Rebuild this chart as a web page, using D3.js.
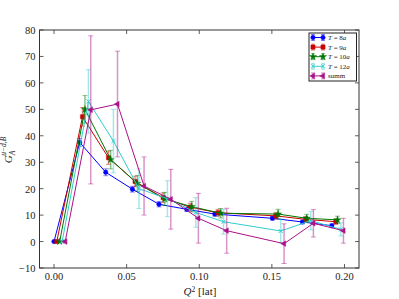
<!DOCTYPE html>
<html><head><meta charset="utf-8">
<script src="https://cdn.jsdelivr.net/npm/d3@7"></script>
<style>body{margin:0;background:#fff}</style>
</head><body><svg id="c" width="399" height="299"></svg>
<script>
const seriesNames = ["T = 8a","T = 9a","T = 10a","T = 12a","summ"];
const colors = ["#0000ff","#cc0000","#007700","#33cccc","#aa1188"];
const q8 = [0,0.0177,0.0356,0.0540,0.0723,0.0914,0.1107,0.1504,0.1711,0.1913];
const q9 = [0.0019,0.0196,0.0375,0.0558,0.0751,0.0937,0.1129,0.1527,0.1733,0.1940];
const q10 = [0.0039,0.0213,0.0390,0.0574,0.0762,0.0948,0.1148,0.1543,0.1740,0.1952];
const q12 = [0.0056,0.0237,0.0409,0.0585,0.0781,0.0976,0.1167,0.1561,0.1768,0.1975];
const qs = [0.0077,0.0253,0.0437,0.0620,0.0804,0.0994,0.1189,0.1584,0.1786,0.1993];
const v8 = [0,37.5,26.2,19.8,14.1,12.2,10.4,8.8,7.4,6.0];
const v9 = [0,47.2,31.7,22.7,16.6,13.0,10.9,9.7,8.4,7.5];
const v10 = [0,50.0,31.0,22.0,16.1,13.2,10.7,10.4,8.8,8.2];
const v12 = [0,53.0,38.0,20.0,16.2,11.0,7.5,4.0,7.9,4.6];
const vs = [0,49.8,52.0,21.0,16.0,8.8,4.1,-0.8,6.9,4.1];
const e8 = [0.2,1.5,1.3,1.1,1.0,0.8,0.8,0.7,0.7,0.7];
const e9 = [0.2,3.5,2.5,2.0,1.8,1.5,1.3,1.2,1.1,1.0];
const e10 = [0.2,5.2,3.5,3.0,2.5,2.0,1.8,1.8,1.5,1.4];
const e12 = [0.3,12,12,7.5,6.8,5.6,4.7,4.5,3.5,2.5];
const es = [0.5,28,20,11,11.3,9.4,8.5,7.5,5.2,4.7];
const xTicks = [0,0.05,0.10,0.15,0.20];
const yTicks = [-10,0,10,20,30,40,50,60,70,80];

const series = [
  {q:q8,v:v8,e:e8},{q:q9,v:v9,e:e9},{q:q10,v:v10,e:e10},{q:q12,v:v12,e:e12},{q:qs,v:vs,e:es}
];
const symbols = [d3.symbolCircle,d3.symbolSquare,d3.symbolStar,d3.symbolTimes,d3.symbolTriangle];
const symSize = [16,18,16,12,14];
const symRot = [0,0,0,0,-90];

const svg = d3.select("#c");
const L=39.5,R=359,T=30,B=268;
const x = d3.scaleLinear().domain([-0.01,0.21]).range([L,R]);
const y = d3.scaleLinear().domain([-10,80]).range([B,T]);
const font = "'Liberation Serif','DejaVu Serif',serif";

const g = svg.append("g");
series.forEach((s,i)=>{
  const c = colors[i];
  const pts = s.q.map((q,j)=>({q, v:s.v[j], e:s.e[j]}));
  const eb = g.append("g").attr("stroke",c).attr("stroke-opacity",0.45).attr("stroke-width",1.5);
  pts.forEach(p=>{
    eb.append("line").attr("x1",x(p.q)).attr("x2",x(p.q)).attr("y1",y(p.v-p.e)).attr("y2",y(p.v+p.e));
    [p.v-p.e,p.v+p.e].forEach(vv=>eb.append("line").attr("x1",x(p.q)-2.5).attr("x2",x(p.q)+2.5).attr("y1",y(vv)).attr("y2",y(vv)).attr("stroke-width",1));
  });
  g.append("path").datum(pts).attr("fill","none").attr("stroke",c).attr("stroke-width",1)
    .attr("d",d3.line().x(p=>x(p.q)).y(p=>y(p.v)));
  const sym = d3.symbol().type(symbols[i]).size(symSize[i]);
  pts.forEach(p=>{
    g.append("path").attr("d",sym).attr("transform",`translate(${x(p.q)},${y(p.v)}) rotate(${symRot[i]})`)
      .attr("fill",c).attr("stroke",c).attr("stroke-width",i===3?1:0.4);
  });
});

svg.append("rect").attr("x",L).attr("y",T).attr("width",R-L).attr("height",B-T).attr("fill","none").attr("stroke","#333").attr("stroke-width",1);
const tk = svg.append("g").attr("stroke","#333").attr("stroke-width",0.8);
xTicks.forEach(t=>{
  tk.append("line").attr("x1",x(t)).attr("x2",x(t)).attr("y1",B).attr("y2",B-4);
  tk.append("line").attr("x1",x(t)).attr("x2",x(t)).attr("y1",T).attr("y2",T+4);
});
yTicks.forEach(t=>{
  tk.append("line").attr("x1",L).attr("x2",L+4).attr("y1",y(t)).attr("y2",y(t));
  tk.append("line").attr("x1",R).attr("x2",R-4).attr("y1",y(t)).attr("y2",y(t));
});
const xfmt = d3.format(".2f");
svg.append("g").selectAll("text").data(xTicks).join("text")
  .attr("x",d=>x(d)).attr("y",B+12).attr("text-anchor","middle")
  .attr("font-family",font).attr("font-size",10.5).attr("fill","#222").text(d=>xfmt(d));
svg.append("g").selectAll("text").data(yTicks).join("text")
  .attr("x",L-4).attr("y",d=>y(d)+4).attr("text-anchor","end")
  .attr("font-family",font).attr("font-size",10.5).attr("fill","#222").text(d=>d<0?"\u2212"+Math.abs(d):d);

const xl = svg.append("text").attr("x",200).attr("y",295).attr("text-anchor","middle").attr("font-family",font).attr("font-size",11).attr("fill","#222");
xl.append("tspan").attr("font-style","italic").text("Q");
xl.append("tspan").attr("font-size",7.5).attr("dy",-3.5).text("2");
xl.append("tspan").attr("dy",3.5).text(" [lat]");
const yl = svg.append("text").attr("transform","translate(12,150) rotate(-90)").attr("text-anchor","middle").attr("font-family",font).attr("font-size",11).attr("fill","#222");
yl.append("tspan").attr("font-style","italic").text("G");
yl.append("tspan").attr("font-style","italic").attr("font-size",7.5).attr("dy",3).text("A");
yl.append("tspan").attr("font-style","italic").attr("font-size",7.5).attr("dx",-5).attr("dy",-9).text("u\u2212d,B");

const lg = svg.append("g");
lg.append("rect").attr("x",309).attr("y",33).attr("width",47.5).attr("height",48).attr("fill","#fff").attr("stroke","#222").attr("stroke-width",1);
seriesNames.forEach((n,i)=>{
  const yy = 37.5+i*9.6, c = colors[i];
  const row = lg.append("g");
  row.append("line").attr("x1",313).attr("x2",323).attr("y1",yy).attr("y2",yy).attr("stroke",c).attr("stroke-width",1);
  [313,323].forEach(xx=>{
    row.append("line").attr("x1",xx).attr("x2",xx).attr("y1",yy-3).attr("y2",yy+3).attr("stroke",c).attr("stroke-opacity",0.45).attr("stroke-width",1.5);
    [yy-3,yy+3].forEach(cy=>row.append("line").attr("x1",xx-2).attr("x2",xx+2).attr("y1",cy).attr("y2",cy).attr("stroke",c).attr("stroke-opacity",0.45));
    row.append("path").attr("d",d3.symbol().type(symbols[i]).size(symSize[i])).attr("transform",`translate(${xx},${yy}) rotate(${symRot[i]})`).attr("fill",c).attr("stroke",c).attr("stroke-width",i===3?1:0.4);
  });
  const t = row.append("text").attr("x",328).attr("y",yy+2.5).attr("font-family",font).attr("font-size",7).attr("fill","#222");
  if(n==="summ"){ t.text("summ"); }
  else {
    const parts = n.split(" = ");
    t.append("tspan").attr("font-style","italic").text(parts[0]);
    t.append("tspan").text(" = "+parts[1].slice(0,-1));
    t.append("tspan").attr("font-style","italic").text("a");
  }
});
</script></body></html>
